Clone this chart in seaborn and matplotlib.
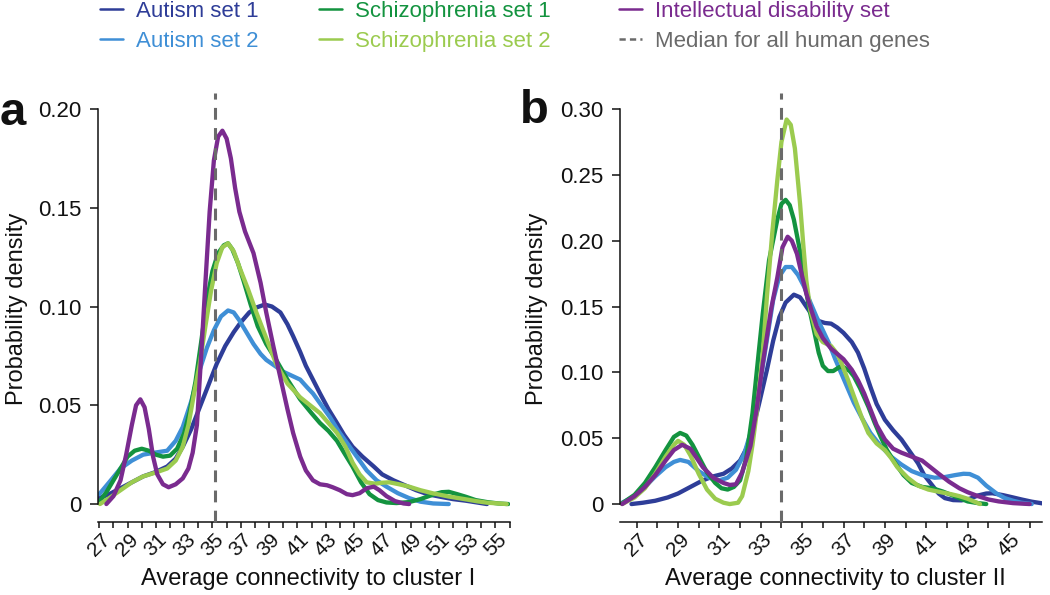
"""Densidades de conectividad media a los clusters I y II (paneles a y b)."""

import matplotlib
matplotlib.use('Agg')
import matplotlib.pyplot as plt
from matplotlib.lines import Line2D
import seaborn as sns
import pandas as pd

SETS = ['Autism set 1', 'Autism set 2', 'Schizophrenia set 1',
        'Schizophrenia set 2', 'Intellectual disability set']
COLORS = ['#2e3d98', '#3f8fd6', '#13933f', '#9bcb4f', '#7a2b8f']
MEDIAN_COLOR = '#6a6a6a'

# Panel a: cluster I
a_aut1_x = [27.0, 27.7, 28.5, 29.3, 30.1, 30.9, 31.8, 32.4, 32.9, 33.5, 34.1, 34.7, 35.3, 35.9,
            36.5, 37.0, 37.6, 38.1, 38.7, 39.2, 39.8, 40.3, 40.7, 41.2, 41.6, 42.1, 42.6, 43.2,
            43.8, 44.3, 44.9, 45.6, 46.4, 47.0, 47.8, 48.6, 49.4, 50.2, 51.1, 52.0, 52.9, 53.7,
            54.4]
a_aut1_y = [0.003, 0.005, 0.008, 0.011, 0.014, 0.016, 0.019, 0.023, 0.029, 0.038, 0.049, 0.060,
            0.071, 0.080, 0.087, 0.092, 0.097, 0.0995, 0.101, 0.100, 0.097, 0.091, 0.085, 0.077,
            0.070, 0.063, 0.056, 0.048, 0.041, 0.035, 0.029, 0.024, 0.019, 0.015, 0.012, 0.0095,
            0.007, 0.005, 0.0037, 0.0025, 0.0017, 0.0008, 0.0]
a_aut2_x = [27.0, 27.7, 28.5, 29.3, 30.1, 30.9, 31.8, 32.4, 32.9, 33.5, 34.1, 34.6, 35.1, 35.6,
            36.1, 36.5, 36.9, 37.4, 37.9, 38.4, 38.8, 39.4, 40.0, 40.6, 41.2, 41.7, 42.1, 42.7,
            43.3, 43.9, 44.5, 45.2, 45.9, 46.6, 47.3, 48.1, 48.9, 49.7, 50.6, 51.7]
a_aut2_y = [0.005, 0.011, 0.018, 0.022, 0.025, 0.026, 0.027, 0.032, 0.039, 0.052, 0.068, 0.079,
            0.088, 0.095, 0.098, 0.097, 0.093, 0.087, 0.081, 0.076, 0.073, 0.070, 0.067, 0.065,
            0.063, 0.059, 0.056, 0.050, 0.044, 0.037, 0.031, 0.024, 0.017, 0.012, 0.0088,
            0.0055, 0.003, 0.0012, 0.0003, 0.0]
a_scz1_x = [27.0, 27.5, 28.0, 28.5, 29.0, 29.5, 30.0, 30.5, 31.0, 31.5, 32.0, 32.5, 33.0, 33.4,
            33.8, 34.2, 34.6, 35.0, 35.4, 35.8, 36.1, 36.4, 36.8, 37.2, 37.7, 38.2, 38.8, 39.5,
            40.3, 41.2, 42.0, 42.6, 43.2, 43.8, 44.3, 44.9, 45.5, 46.1, 46.7, 47.3, 48.0, 48.9,
            49.7, 50.6, 51.2, 51.7, 52.3, 52.9, 53.6, 54.4, 55.2, 55.9]
a_scz1_y = [0.001, 0.006, 0.012, 0.018, 0.024, 0.027, 0.028, 0.027, 0.025, 0.024, 0.0245, 0.028,
            0.036, 0.047, 0.062, 0.082, 0.103, 0.118, 0.127, 0.131, 0.132, 0.129, 0.122, 0.113,
            0.101, 0.090, 0.081, 0.073, 0.063, 0.053, 0.046, 0.041, 0.037, 0.032, 0.026, 0.019,
            0.011, 0.005, 0.002, 0.0008, 0.0005, 0.001, 0.0025, 0.0048, 0.006, 0.0062, 0.005,
            0.0037, 0.002, 0.001, 0.0003, 0.0]
a_scz2_x = [27.05, 27.7, 28.5, 29.3, 30.1, 31.0, 31.8, 32.4, 32.9, 33.3, 33.7, 34.1, 34.5, 34.9,
            35.3, 35.7, 36.1, 36.5, 36.9, 37.5, 38.1, 38.8, 39.5, 40.3, 41.2, 41.9, 42.6, 43.2,
            43.8, 44.4, 44.9, 45.4, 45.9, 46.5, 47.0, 47.5, 48.2, 48.9, 49.7, 50.6, 51.7, 52.9,
            53.7, 54.4, 55.8]
a_scz2_y = [0.0, 0.003, 0.007, 0.011, 0.014, 0.016, 0.018, 0.022, 0.029, 0.040, 0.056, 0.071,
            0.090, 0.108, 0.122, 0.130, 0.132, 0.128, 0.120, 0.109, 0.097, 0.084, 0.071, 0.061,
            0.054, 0.050, 0.046, 0.041, 0.036, 0.029, 0.021, 0.015, 0.011, 0.0103, 0.0108, 0.011,
            0.010, 0.0088, 0.007, 0.0054, 0.0038, 0.0024, 0.0014, 0.0007, 0.0]
a_id_x = [27.5, 28.0, 28.5, 28.9, 29.3, 29.6, 29.9, 30.2, 30.5, 30.8, 31.1, 31.5, 31.9, 32.4,
          32.9, 33.3, 33.6, 33.9, 34.2, 34.5, 34.8, 35.1, 35.4, 35.7, 36.0, 36.3, 36.6, 36.9,
          37.3, 37.9, 38.4, 38.8, 39.3, 39.8, 40.3, 40.7, 41.2, 41.6, 42.1, 42.6, 43.1, 43.5,
          44.0, 44.5, 44.9, 45.4, 45.9, 46.4, 46.8, 47.3, 47.9, 48.5, 48.9]
a_id_y = [0.0, 0.004, 0.012, 0.025, 0.040, 0.050, 0.053, 0.049, 0.038, 0.024, 0.015, 0.010,
          0.0085, 0.010, 0.013, 0.018, 0.026, 0.040, 0.075, 0.112, 0.148, 0.174, 0.186, 0.189,
          0.185, 0.175, 0.160, 0.148, 0.138, 0.127, 0.112, 0.097, 0.080, 0.064, 0.048, 0.036,
          0.024, 0.017, 0.012, 0.010, 0.0095, 0.0085, 0.007, 0.005, 0.0045, 0.0055, 0.008,
          0.0088, 0.007, 0.004, 0.0015, 0.0003, 0.0]
a_median = 35.2

# Panel b: cluster II
b_aut1_x = [26.75, 27.3, 27.9, 28.5, 29.0, 29.6, 30.2, 30.7, 31.2, 31.6, 32.0, 32.3, 32.6, 32.9,
            33.3, 33.6, 33.9, 34.2, 34.6, 34.9, 35.2, 35.5, 35.8, 36.1, 36.4, 36.7, 37.0, 37.4,
            37.7, 38.0, 38.3, 38.6, 39.0, 39.4, 39.8, 40.2, 40.6, 40.9, 41.3, 41.6, 41.9, 42.3,
            42.7, 43.1, 43.5, 43.9, 44.2, 44.7, 45.2, 45.6, 46.1, 46.5, 46.8]
b_aut1_y = [0.0, 0.001, 0.0025, 0.005, 0.008, 0.013, 0.018, 0.021, 0.023, 0.027, 0.033, 0.042,
            0.056, 0.075, 0.102, 0.124, 0.142, 0.153, 0.159, 0.157, 0.150, 0.143, 0.139, 0.1375,
            0.137, 0.134, 0.130, 0.123, 0.115, 0.103, 0.089, 0.076, 0.064, 0.056, 0.049, 0.040,
            0.031, 0.022, 0.014, 0.008, 0.0045, 0.003, 0.0028, 0.004, 0.0065, 0.008, 0.0082,
            0.0068, 0.005, 0.0035, 0.0018, 0.0008, 0.0]
b_aut2_x = [26.3, 26.9, 27.4, 27.9, 28.4, 28.8, 29.1, 29.5, 30.0, 30.5, 31.0, 31.4, 31.8, 32.2,
            32.6, 32.9, 33.3, 33.6, 33.9, 34.2, 34.5, 34.8, 35.1, 35.4, 35.7, 36.0, 36.3, 36.6,
            36.9, 37.2, 37.5, 37.9, 38.3, 38.8, 39.3, 39.8, 40.3, 40.8, 41.4, 41.9, 42.4, 42.8,
            43.1, 43.5, 43.9, 44.4, 44.8, 45.2, 45.6, 46.1]
b_aut2_y = [0.001, 0.006, 0.013, 0.021, 0.028, 0.032, 0.0335, 0.032, 0.025, 0.020, 0.018, 0.020,
            0.026, 0.038, 0.059, 0.085, 0.125, 0.155, 0.173, 0.180, 0.180, 0.174, 0.165, 0.153,
            0.142, 0.132, 0.122, 0.110, 0.099, 0.088, 0.077, 0.065, 0.054, 0.044, 0.036, 0.030,
            0.025, 0.022, 0.020, 0.0205, 0.022, 0.023, 0.0228, 0.020, 0.014, 0.008, 0.0045,
            0.0025, 0.001, 0.0]
b_scz1_x = [26.3, 26.9, 27.4, 27.9, 28.4, 28.8, 29.1, 29.4, 29.7, 30.0, 30.4, 30.8, 31.1, 31.4,
            31.7, 32.0, 32.3, 32.6, 32.9, 33.1, 33.4, 33.8, 34.0, 34.2, 34.4, 34.6, 34.9, 35.1,
            35.35, 35.6, 35.8, 36.0, 36.25, 36.5, 36.8, 37.0, 37.3, 37.5, 37.8, 38.2, 38.5, 38.8,
            39.1, 39.5, 39.9, 40.3, 40.8, 41.3, 41.8, 42.2, 42.6, 43.0, 43.5, 43.9]
b_scz1_y = [0.0005, 0.007, 0.016, 0.028, 0.041, 0.051, 0.054, 0.052, 0.045, 0.036, 0.024, 0.016,
            0.012, 0.011, 0.013, 0.018, 0.035, 0.069, 0.115, 0.145, 0.185, 0.216, 0.228, 0.231,
            0.227, 0.216, 0.192, 0.170, 0.148, 0.130, 0.115, 0.105, 0.101, 0.101, 0.104, 0.104,
            0.101, 0.097, 0.088, 0.074, 0.062, 0.051, 0.041, 0.031, 0.022, 0.016, 0.013, 0.012,
            0.0095, 0.007, 0.0045, 0.002, 0.0007, 0.0]
b_scz2_x = [26.3, 26.9, 27.4, 27.9, 28.4, 28.8, 29.0, 29.3, 29.6, 30.0, 30.4, 30.8, 31.2, 31.5,
            31.9, 32.1, 32.4, 32.6, 32.8, 33.1, 33.3, 33.55, 33.8, 34.0, 34.25, 34.45, 34.65,
            34.9, 35.05, 35.2, 35.4, 35.7, 36.0, 36.4, 36.7, 36.9, 37.2, 37.5, 37.9, 38.2, 38.6,
            39.0, 39.3, 39.6, 40.1, 40.6, 41.1, 41.7, 42.2, 42.6, 43.0, 43.3, 43.6]
b_scz2_y = [0.0, 0.005, 0.012, 0.023, 0.036, 0.045, 0.048, 0.045, 0.037, 0.023, 0.011, 0.004,
            0.001, 0.0, 0.001, 0.006, 0.025, 0.045, 0.069, 0.115, 0.158, 0.205, 0.246, 0.275,
            0.292, 0.288, 0.270, 0.228, 0.198, 0.170, 0.147, 0.129, 0.123, 0.120, 0.114, 0.107,
            0.095, 0.082, 0.065, 0.054, 0.046, 0.041, 0.035, 0.028, 0.020, 0.014, 0.011, 0.009,
            0.0075, 0.006, 0.004, 0.002, 0.0]
b_id_x = [26.3, 26.9, 27.4, 27.9, 28.4, 28.8, 29.2, 29.6, 30.2, 30.7, 31.2, 31.5, 31.8, 32.1,
          32.5, 32.8, 33.1, 33.5, 33.8, 34.05, 34.3, 34.5, 34.75, 35.0, 35.2, 35.45, 35.7, 36.0,
          36.4, 36.7, 37.0, 37.4, 37.7, 38.0, 38.3, 38.6, 39.0, 39.4, 39.8, 40.3, 40.8, 41.2,
          41.6, 42.1, 42.6, 43.0, 43.5, 44.0, 44.5, 45.2, 46.0]
b_id_y = [0.0, 0.006, 0.013, 0.022, 0.033, 0.041, 0.045, 0.042, 0.028, 0.020, 0.016, 0.0145,
          0.015, 0.024, 0.044, 0.072, 0.107, 0.148, 0.172, 0.195, 0.203, 0.200, 0.190, 0.173,
          0.160, 0.147, 0.135, 0.126, 0.118, 0.114, 0.110, 0.102, 0.094, 0.084, 0.072, 0.060,
          0.049, 0.042, 0.039, 0.036, 0.033, 0.028, 0.023, 0.017, 0.012, 0.009, 0.006, 0.0035,
          0.002, 0.0007, 0.0]
b_median = 34.0

a_yticks = [0, 0.05, 0.10, 0.15, 0.20]
a_yticklabels = ['0', '0.05', '0.10', '0.15', '0.20']
b_yticks = [0, 0.05, 0.10, 0.15, 0.20, 0.25, 0.30]
b_yticklabels = ['0', '0.05', '0.10', '0.15', '0.20', '0.25', '0.30']


def tabla(series):
    filas = []
    for nombre, xs, ys in series:
        for x, y in zip(xs, ys):
            filas.append({'x': x, 'y': y, 'set': nombre})
    return pd.DataFrame(filas)


df_a = tabla([(SETS[0], a_aut1_x, a_aut1_y), (SETS[1], a_aut2_x, a_aut2_y),
              (SETS[2], a_scz1_x, a_scz1_y), (SETS[3], a_scz2_x, a_scz2_y),
              (SETS[4], a_id_x, a_id_y)])
df_b = tabla([(SETS[0], b_aut1_x, b_aut1_y), (SETS[1], b_aut2_x, b_aut2_y),
              (SETS[2], b_scz1_x, b_scz1_y), (SETS[3], b_scz2_x, b_scz2_y),
              (SETS[4], b_id_x, b_id_y)])

sns.set_theme(style='ticks')
plt.rcParams['font.family'] = ['Liberation Sans', 'DejaVu Sans']
plt.rcParams['lines.scale_dashes'] = False

fig = plt.figure(figsize=(10.5, 5.95), dpi=100)
ax_a = fig.add_axes([98.3 / 1050, 87 / 595, 412 / 1050, 399 / 595])
ax_b = fig.add_axes([620.1 / 1050, 87 / 595, 422 / 1050, 399 / 595])

paleta = dict(zip(SETS, COLORS))


def panel(ax, df, median, xlim, ylim, xticks, yticks, yticklabels, xlabel):
    sns.lineplot(data=df, x='x', y='y', hue='set', hue_order=SETS, palette=paleta,
                 linewidth=3.1, legend=False, sort=False, estimator=None, ax=ax)
    for linea in ax.lines:
        linea.set_solid_joinstyle('round')
        linea.set_solid_capstyle('round')
    ax.plot([median, median], [-0.035, 1.04], transform=ax.get_xaxis_transform(),
            color=MEDIAN_COLOR, linewidth=2.2, dashes=(8.5, 6.0), clip_on=False, zorder=5)
    ax.set_xlim(*xlim)
    ax.set_ylim(*ylim)
    ax.set_xticks(xticks)
    ax.set_xticklabels([str(v) if v % 2 else '' for v in xticks])
    ax.set_yticks(yticks)
    ax.set_yticklabels(yticklabels)
    ax.spines['top'].set_visible(False)
    ax.spines['right'].set_visible(False)
    ax.spines['bottom'].set_position(('outward', 10))
    ax.spines['left'].set_bounds(0, yticks[-1])
    for s in ('left', 'bottom'):
        ax.spines[s].set_linewidth(1.1)
        ax.spines[s].set_color('#111111')
    ax.tick_params(axis='y', length=6, width=1.1, pad=6, color='#111111', labelsize=16,
                   labelcolor='#111111')
    ax.tick_params(axis='x', length=4, width=1.1, pad=2, color='#111111', labelsize=15,
                   labelrotation=45, labelcolor='#111111')
    ax.set_xlabel(xlabel, fontsize=17, color='#111111')
    ax.set_ylabel('Probability density', fontsize=17, color='#111111')
    ax.xaxis.set_label_coords(0.51, -0.15)
    ax.xaxis.label.set_va('top')
    ax.yaxis.set_label_coords(-0.17, 0.5)


panel(ax_a, df_a, a_median, (26.93, 56.05), (-0.002, 0.20), list(range(27, 57)),
      a_yticks, a_yticklabels, 'Average connectivity to cluster I')
panel(ax_b, df_b, b_median, (26.2, 46.6), (-0.003, 0.30), list(range(27, 47)),
      b_yticks, b_yticklabels, 'Average connectivity to cluster II')

fig.text(0.0, 1 - 125 / 595, 'a', fontsize=34, fontweight='bold', va='baseline',
         color='#111111')
fig.text(520 / 1050, 1 - 123 / 595, 'b', fontsize=34, fontweight='bold', va='baseline',
         color='#111111')

handles = [Line2D([], [], color=c, linewidth=1.8) for c in COLORS]
handles.append(Line2D([], [], color=MEDIAN_COLOR, linewidth=1.8, dashes=(4.5, 3.0)))
labels = SETS + ['Median for all human genes']
columnas = [(0, 1, 99), (2, 3, 318), (4, 5, 618)]
for i, j, x0 in columnas:
    fig.legend([handles[i], handles[j]], [labels[i], labels[j]], ncol=1,
               loc='upper left', bbox_to_anchor=(x0 / 1050, 1.0), frameon=False,
               fontsize=16, handlelength=1.05, handletextpad=0.55, labelspacing=0.38,
               borderpad=0.05, borderaxespad=0, labelcolor='linecolor')

fig.savefig('out.png', dpi=100)
plt.close(fig)
